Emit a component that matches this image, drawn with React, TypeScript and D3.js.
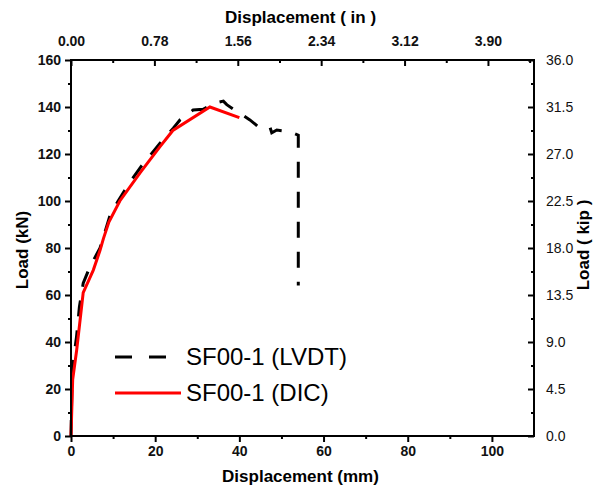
import React, { useEffect, useRef } from "react";
import * as d3 from "d3";

const width = 600;
const height = 490;
const margin = { top: 60, right: 66, bottom: 54, left: 71 };

// SF00-1 (LVDT), displacement in mm, load in kN
const lvdtDisp = [0, 0.2, 0.4, 1.3, 2.0, 2.9, 4.5, 6.9, 9.3, 11.2, 14.0, 16.8, 21.1, 24.3, 25.9, 29.0, 31.4, 33.8, 36.2, 37.0, 40.1, 42.5, 44.9, 47.3, 47.7, 48.9, 52.0, 54.0, 54.0];
const lvdtLoad = [0, 20, 30, 42, 55, 65, 72, 80, 94, 100, 108, 115, 124.5, 131, 134.5, 138.7, 139, 141.5, 142.5, 141, 137.3, 134.5, 131, 131.3, 129, 130.2, 129.5, 128, 64];

// SF00-1 (DIC)
const dicDisp = [0, 0.4, 1.35, 2.9, 5.3, 6.9, 7.7, 9.0, 11.6, 16.4, 21.1, 24.2, 33.0, 40.0];
const dicLoad = [0, 24, 36.6, 61, 70.6, 79, 84, 91, 100, 112, 123, 130, 140, 135.5];

const mmTicks = [0, 20, 40, 60, 80, 100];
const mmMinor = [10, 30, 50, 70, 90];
const inTicks = [0, 0.78, 1.56, 2.34, 3.12, 3.9];
const inMinor = [0.39, 1.17, 1.95, 2.73, 3.51, 4.29];
const knTicks = [0, 20, 40, 60, 80, 100, 120, 140, 160];
const knMinor = [10, 30, 50, 70, 90, 110, 130, 150];
const kipTicks = [0, 4.5, 9, 13.5, 18, 22.5, 27, 31.5, 36];
const kipMinor = [2.25, 6.75, 11.25, 15.75, 20.25, 24.75, 29.25, 33.75];

const legendNames = ["SF00-1 (LVDT)", "SF00-1 (DIC)"];

const font = "'Liberation Sans', Arial, sans-serif";

export default function App() {
  const xRef = useRef<SVGGElement>(null);
  const x2Ref = useRef<SVGGElement>(null);
  const yRef = useRef<SVGGElement>(null);
  const y2Ref = useRef<SVGGElement>(null);

  const x = d3.scaleLinear().domain([0, 110]).range([margin.left, width - margin.right]);
  const xIn = d3.scaleLinear().domain([0, 110 / 25.4]).range([margin.left, width - margin.right]);
  const y = d3.scaleLinear().domain([0, 160]).range([height - margin.bottom, margin.top]);
  const yKip = d3.scaleLinear().domain([0, 36]).range([height - margin.bottom, margin.top]);

  const line = d3
    .line<number>()
    .x(d => d[0])
    .y(d => d[1]);

  const lvdtPath = line(lvdtDisp.map((d, i) => [x(d), y(lvdtLoad[i])]) as any);
  const dicPath = line(dicDisp.map((d, i) => [x(d), y(dicLoad[i])]) as any);

  useEffect(() => {
    const style = (g: any, bold: boolean) => {
      g.select(".domain").remove();
      g.selectAll("line").attr("stroke", "#000").attr("stroke-width", 2);
      g.selectAll("text")
        .attr("font-family", font)
        .attr("font-size", 14)
        .attr("font-weight", bold ? "bold" : "normal")
        .attr("fill", "#111");
    };

    const bx = d3.select(xRef.current);
    bx.selectAll("*").remove();
    bx.append("g").call(d3.axisBottom(x).tickValues(mmTicks).tickSize(6).tickPadding(4).tickFormat(d3.format("d")) as any).call(style, true);
    bx.append("g").call(d3.axisBottom(x).tickValues(mmMinor).tickSize(3).tickFormat(() => "") as any).call(style, true);

    const tx = d3.select(x2Ref.current);
    tx.selectAll("*").remove();
    tx.append("g").call(d3.axisTop(xIn).tickValues(inTicks).tickSize(-6).tickPadding(14).tickFormat(d3.format(".2f")) as any).call(style, true);
    tx.append("g").call(d3.axisTop(xIn).tickValues(inMinor).tickSize(-3).tickFormat(() => "") as any).call(style, true);

    const ly = d3.select(yRef.current);
    ly.selectAll("*").remove();
    ly.append("g").call(d3.axisLeft(y).tickValues(knTicks).tickSize(6).tickPadding(4).tickFormat(d3.format("d")) as any).call(style, true);
    ly.append("g").call(d3.axisLeft(y).tickValues(knMinor).tickSize(3).tickFormat(() => "") as any).call(style, true);

    const ry = d3.select(y2Ref.current);
    ry.selectAll("*").remove();
    ry.append("g").call(d3.axisRight(yKip).tickValues(kipTicks).tickSize(-6).tickPadding(12).tickFormat(d3.format(".1f")) as any).call(style, false);
    ry.append("g").call(d3.axisRight(yKip).tickValues(kipMinor).tickSize(-3).tickFormat(() => "") as any).call(style, false);
  }, []);

  const left = margin.left;
  const right = width - margin.right;
  const top = margin.top;
  const bottom = height - margin.bottom;

  return (
    <svg width={width} height={height} style={{ position: "absolute", left: 0, top: 0, background: "#fff" }}>
      <rect x={0} y={0} width={width} height={height} fill="#fff" />
      <path d={lvdtPath || ""} fill="none" stroke="#000" strokeWidth={3} strokeDasharray="16,14" />
      <path d={dicPath || ""} fill="none" stroke="#ff0000" strokeWidth={3} />
      <rect x={left} y={top} width={right - left} height={bottom - top} fill="none" stroke="#000" strokeWidth={2} />
      <g ref={xRef} transform={`translate(0, ${bottom})`} />
      <g ref={x2Ref} transform={`translate(0, ${top})`} />
      <g ref={yRef} transform={`translate(${left}, 0)`} />
      <g ref={y2Ref} transform={`translate(${right}, 0)`} />

      <text x={(left + right) / 2 - 2} y={482} textAnchor="middle" fontFamily={font} fontSize={17} fontWeight="bold">Displacement (mm)</text>
      <text x={(left + right) / 2 - 2} y={23} textAnchor="middle" fontFamily={font} fontSize={17} fontWeight="bold">Displacement ( in )</text>
      <text transform={`translate(28, 250) rotate(-90)`} textAnchor="middle" fontFamily={font} fontSize={17} fontWeight="bold">Load (kN)</text>
      <text transform={`translate(589, 245) rotate(-90)`} textAnchor="middle" fontFamily={font} fontSize={17} fontWeight="bold">Load ( kip )</text>

      <g fontFamily={font} fontSize={24}>
        <line x1={115} x2={183} y1={357} y2={357} stroke="#000" strokeWidth={3} strokeDasharray="17,17" />
        <text x={186} y={357} dy="0.35em">{legendNames[0]}</text>
        <line x1={115} x2={181} y1={393} y2={393} stroke="#ff0000" strokeWidth={3} />
        <text x={186} y={393} dy="0.35em">{legendNames[1]}</text>
      </g>
    </svg>
  );
}
